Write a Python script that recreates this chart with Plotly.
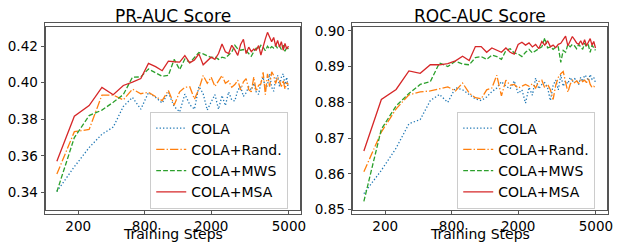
import plotly.graph_objects as go

# Evaluation steps (x values)
steps = [80, 176, 272, 368, 464, 560, 656, 752, 848, 944,
         1040, 1136, 1232, 1328, 1424, 1520, 1616, 1712, 1808, 1904,
         2000, 2096, 2192, 2288, 2384, 2480, 2576, 2672, 2768, 2864,
         2960, 3056, 3152, 3248, 3344, 3440, 3536, 3632, 3728, 3824,
         3920, 4016, 4112, 4208, 4304, 4400, 4496, 4592, 4688, 4784,
         4880, 4976]

# Offset used by the shifted-log step axis of the original chart
STEP_OFFSET = 400

xtick_vals = [200, 800, 2000, 5000]
xtick_text = ["200", "800", "2000", "5000"]

series_names = ["COLA", "COLA+Rand.", "COLA+MWS", "COLA+MSA"]

# PR-AUC
pr_cola = [0.3405, 0.3540, 0.3645, 0.3718, 0.3757, 0.3870, 0.3920, 0.3855, 0.3946, 0.3920,
           0.3889, 0.3945, 0.3870, 0.3840, 0.3938, 0.3880, 0.3855, 0.3980, 0.3940, 0.3850,
           0.3895, 0.3935, 0.3855, 0.3930, 0.3875, 0.3950, 0.3905, 0.3900, 0.3960, 0.3978,
           0.3925, 0.3945, 0.3978, 0.3960, 0.3997, 0.3950, 0.3936, 0.4000, 0.4031, 0.3965,
           0.3988, 0.4049, 0.3975, 0.3953, 0.4020, 0.4040, 0.3979, 0.4030, 0.4049, 0.3990,
           0.4030, 0.3953]
pr_rand = [0.3500, 0.3732, 0.3744, 0.3932, 0.3933, 0.3906, 0.3965, 0.3940, 0.3948, 0.3925,
           0.3902, 0.3958, 0.3878, 0.3950, 0.3975, 0.3978, 0.3910, 0.3965, 0.4040, 0.3997,
           0.4030, 0.3980, 0.4014, 0.4040, 0.3997, 0.4010, 0.3975, 0.3990, 0.4014, 0.3960,
           0.4005, 0.4023, 0.3962, 0.3950, 0.4031, 0.3953, 0.3985, 0.3995, 0.4057, 0.3935,
           0.4049, 0.3979, 0.4060, 0.4040, 0.3995, 0.4031, 0.4010, 0.3979, 0.4014, 0.3965,
           0.4000, 0.3990]
pr_mws = [0.3403, 0.3700, 0.3820, 0.3850, 0.3893, 0.3935, 0.4030, 0.4032, 0.4075, 0.4055,
          0.4035, 0.4040, 0.4128, 0.4072, 0.4130, 0.4110, 0.4140, 0.4165, 0.4158, 0.4150,
          0.4138, 0.4142, 0.4128, 0.4140, 0.4135, 0.4152, 0.4168, 0.4205, 0.4185, 0.4178,
          0.4182, 0.4175, 0.4160, 0.4145, 0.4170, 0.4190, 0.4182, 0.4205, 0.4195, 0.4175,
          0.4200, 0.4185, 0.4198, 0.4190, 0.4205, 0.4188, 0.4200, 0.4182, 0.4205, 0.4172,
          0.4195, 0.4185]
pr_msa = [0.3570, 0.3817, 0.3875, 0.3974, 0.3934, 0.3985, 0.4003, 0.4023, 0.4106, 0.4088,
          0.4066, 0.4118, 0.4115, 0.4113, 0.4149, 0.4109, 0.4125, 0.4158, 0.4098, 0.4118,
          0.4140, 0.4128, 0.4160, 0.4212, 0.4170, 0.4160, 0.4205, 0.4180, 0.4150, 0.4210,
          0.4238, 0.4160, 0.4195, 0.4170, 0.4185, 0.4178, 0.4203, 0.4152, 0.4200, 0.4240,
          0.4276, 0.4245, 0.4225, 0.4248, 0.4200, 0.4232, 0.4195, 0.4225, 0.4178, 0.4215,
          0.4185, 0.4200]

# ROC-AUC
roc_cola = [0.8545, 0.8610, 0.8672, 0.8740, 0.8752, 0.8805, 0.8822, 0.8800, 0.8841, 0.8835,
            0.8822, 0.8810, 0.8805, 0.8815, 0.8830, 0.8840, 0.8858, 0.8845, 0.8838, 0.8860,
            0.8825, 0.8835, 0.8798, 0.8842, 0.8820, 0.8868, 0.8838, 0.8850, 0.8855, 0.8840,
            0.8805, 0.8848, 0.8862, 0.8835, 0.8876, 0.8845, 0.8860, 0.8852, 0.8870, 0.8858,
            0.8866, 0.8862, 0.8850, 0.8870, 0.8858, 0.8876, 0.8872, 0.8860, 0.8878, 0.8865,
            0.8870, 0.8855]
roc_rand = [0.8606, 0.8717, 0.8782, 0.8821, 0.8829, 0.8832, 0.8838, 0.8843, 0.8832, 0.8854,
            0.8826, 0.8813, 0.8810, 0.8835, 0.8840, 0.8876, 0.8818, 0.8862, 0.8848, 0.8850,
            0.8840, 0.8845, 0.8850, 0.8845, 0.8852, 0.8840, 0.8858, 0.8862, 0.8840, 0.8850,
            0.8835, 0.8808, 0.8848, 0.8870, 0.8880, 0.8886, 0.8855, 0.8828, 0.8850, 0.8862,
            0.8855, 0.8860, 0.8852, 0.8865, 0.8858, 0.8862, 0.8855, 0.8868, 0.8850, 0.8842,
            0.8845, 0.8840]
roc_mws = [0.8523, 0.8725, 0.8790, 0.8825, 0.8850, 0.8858, 0.8910, 0.8900, 0.8915, 0.8907,
           0.8905, 0.8925, 0.8928, 0.8920, 0.8932, 0.8928, 0.8920, 0.8945, 0.8950, 0.8938,
           0.8935, 0.8928, 0.8940, 0.8948, 0.8938, 0.8945, 0.8950, 0.8955, 0.8980, 0.8952,
           0.8955, 0.8948, 0.8955, 0.8955, 0.8912, 0.8945, 0.8940, 0.8962, 0.8955, 0.8962,
           0.8958, 0.8950, 0.8962, 0.8955, 0.8948, 0.8965, 0.8955, 0.8960, 0.8940, 0.8960,
           0.8952, 0.8945]
roc_msa = [0.8664, 0.8808, 0.8836, 0.8888, 0.8881, 0.8905, 0.8905, 0.8908, 0.8916, 0.8929,
           0.8917, 0.8956, 0.8956, 0.8940, 0.8952, 0.8945, 0.8940, 0.8952, 0.8940, 0.8935,
           0.8962, 0.8968, 0.8960, 0.8966, 0.8955, 0.8962, 0.8950, 0.8970, 0.8960, 0.8972,
           0.8955, 0.8960, 0.8953, 0.8962, 0.8965, 0.8975, 0.8985, 0.8958, 0.8970, 0.8984,
           0.8975, 0.8966, 0.8962, 0.8972, 0.8960, 0.8975, 0.8958, 0.8968, 0.8978, 0.8960,
           0.8970, 0.8952]

pr_ticks = [0.34, 0.36, 0.38, 0.40, 0.42]
roc_ticks = [0.85, 0.86, 0.87, 0.88, 0.89, 0.90]

colors = ["#1f77b4", "#ff7f0e", "#2ca02c", "#d62728"]
dashes = ["1.3px,2.1px", "8.3px,2.1px,1.3px,2.1px", "4.8px,2.1px", "solid"]

FONT = "DejaVu Sans"
W, H = 620, 251

x_shift = [s + STEP_OFFSET for s in steps]
tick_shift = [t + STEP_OFFSET for t in xtick_vals]

fig = go.Figure()
panels = [
    ([pr_cola, pr_rand, pr_mws, pr_msa], "x", "y", "legend"),
    ([roc_cola, roc_rand, roc_mws, roc_msa], "x2", "y2", "legend2"),
]
for vals, xa, ya, lg in panels:
    for i, (name, ys) in enumerate(zip(series_names, vals)):
        fig.add_trace(go.Scatter(
            x=x_shift, y=ys, mode="lines", name=name,
            line=dict(color=colors[i], width=1.3, dash=dashes[i]),
            xaxis=xa, yaxis=ya, legend=lg,
        ))

axis_line = "#555555"
common_x = dict(
    type="log", tickvals=tick_shift, ticktext=xtick_text,
    showgrid=False, zeroline=False, showline=True, linecolor=axis_line, linewidth=1,
    mirror=True, ticks="outside", ticklen=4, tickwidth=1, tickcolor=axis_line,
    tickfont=dict(family=FONT, size=13.5, color="black"),
    range=[2.630, 3.783],
)
common_y = dict(
    showgrid=False, zeroline=False, showline=True, linecolor=axis_line, linewidth=1,
    mirror=True, ticks="outside", ticklen=4, tickwidth=1, tickcolor=axis_line,
    tickfont=dict(family=FONT, size=13.5, color="black"), tickformat=".2f",
)

PX_L = (46, 303)
PX_R = (356, 613)
PX_Y = (24, 216)
y_dom = [1 - PX_Y[1] / H, 1 - PX_Y[0] / H]
left_dom = [PX_L[0] / W, PX_L[1] / W]
right_dom = [PX_R[0] / W, PX_R[1] / W]

legend_common = dict(
    xanchor="left", yanchor="top",
    bgcolor="rgba(255,255,255,0.8)", bordercolor="#cccccc", borderwidth=1,
    font=dict(family=FONT, size=14, color="black"),
    itemwidth=30,
)

# frame boxes around each panel (empty bordered annotation boxes)
frame_boxes = [
    dict(text="", x=sum(dom) / 2, y=sum(y_dom) / 2, xref="paper", yref="paper",
         xanchor="center", yanchor="middle", showarrow=False, borderpad=0,
         width=(px[1] - px[0]) - 1, height=(PX_Y[1] - PX_Y[0]) - 1,
         bordercolor=axis_line, borderwidth=1, bgcolor="rgba(0,0,0,0)")
    for dom, px in ((left_dom, PX_L), (right_dom, PX_R))
]

fig.update_layout(
    width=W, height=H,
    margin=dict(l=0, r=0, t=0, b=0),
    paper_bgcolor="white", plot_bgcolor="white",
    font=dict(family=FONT, color="black"),
    xaxis=dict(domain=left_dom, anchor="y", **common_x),
    yaxis=dict(domain=y_dom, anchor="x", range=[0.3305, 0.4306], tickvals=pr_ticks, **common_y),
    xaxis2=dict(domain=right_dom, anchor="y2", **common_x),
    yaxis2=dict(domain=y_dom, anchor="x2", range=[0.8500, 0.9011], tickvals=roc_ticks, **common_y),
    legend=dict(x=151.7 / W, y=1 - 113 / H, **legend_common),
    legend2=dict(x=461.7 / W, y=1 - 113 / H, **legend_common),
    showlegend=True,
    annotations=frame_boxes + [
        dict(text="PR-AUC Score", x=sum(left_dom) / 2, y=1 - 1 / H, xref="paper", yref="paper",
             xanchor="center", yanchor="top", showarrow=False, borderpad=0,
             font=dict(family=FONT, size=17, color="black")),
        dict(text="ROC-AUC Score", x=sum(right_dom) / 2, y=1 - 1 / H, xref="paper", yref="paper",
             xanchor="center", yanchor="top", showarrow=False, borderpad=0,
             font=dict(family=FONT, size=17, color="black")),
        dict(text="Training Steps", x=sum(left_dom) / 2, y=0, xref="paper", yref="paper",
             xanchor="center", yanchor="bottom", showarrow=False, borderpad=0,
             font=dict(family=FONT, size=14, color="black")),
        dict(text="Training Steps", x=sum(right_dom) / 2, y=0, xref="paper", yref="paper",
             xanchor="center", yanchor="bottom", showarrow=False, borderpad=0,
             font=dict(family=FONT, size=14, color="black")),
    ],
)

fig.write_html(
    "out.html",
    config={"displayModeBar": False},
    post_script=("document.body.style.margin='0';document.body.style.padding='0';"
                 "document.documentElement.style.overflow='hidden';"
                 "document.body.style.overflow='hidden';"),
)
